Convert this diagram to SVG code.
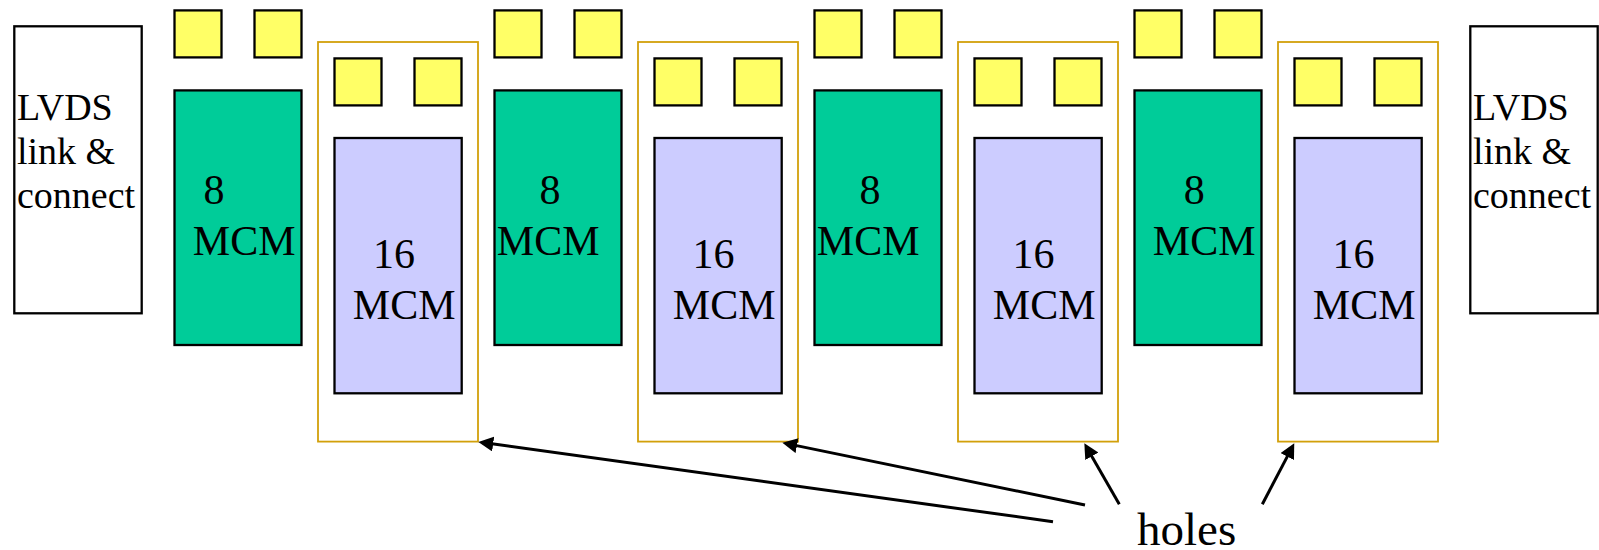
<svg xmlns="http://www.w3.org/2000/svg" width="1599" height="550" viewBox="0 0 1599 550">
<defs>
<style>
.box{fill:#fff;stroke:#000;stroke-width:2.3}
.sq{fill:#FFFF66;stroke:#000;stroke-width:2.3}
.g8{fill:#00CC99;stroke:#000;stroke-width:2.3}
.p16{fill:#CCCCFF;stroke:#000;stroke-width:2.3}
.frame{fill:none;stroke:#D2A00A;stroke-width:1.8}
.t{font-family:"Liberation Serif","Times New Roman",serif;fill:#000}
.lv{font-size:38px}
.mc{font-size:42px}
.ho{font-size:47px}
.arr{stroke:#000;stroke-width:3;fill:none;marker-end:url(#ah)}
</style>
<marker id="ah" markerUnits="userSpaceOnUse" markerWidth="15" markerHeight="15" refX="3" refY="7.5" orient="auto">
<path d="M0,0 L15,7.5 L0,15 z" fill="#000"/>
</marker>
</defs>
<g id="lvds-left">
<rect class="box" x="14.3" y="26.3" width="127.4" height="287"/>
<text class="t lv" x="17" y="120">LVDS</text>
<text class="t lv" x="17" y="164">link &amp;</text>
<text class="t lv" x="17" y="208">connect</text>
</g>
<g id="lvds-right">
<rect class="box" x="1470.3" y="26.3" width="127.4" height="287"/>
<text class="t lv" x="1473" y="120">LVDS</text>
<text class="t lv" x="1473" y="164">link &amp;</text>
<text class="t lv" x="1473" y="208">connect</text>
</g>
<g id="mcm8-1">
<rect class="sq" x="174.5" y="10.4" width="47" height="47"/>
<rect class="sq" x="254.5" y="10.4" width="47" height="47"/>
<rect class="g8" x="174.5" y="90.4" width="127" height="254.6"/>
<text class="t mc" x="203.5" y="204.3">8</text>
<text class="t mc" x="192.8" y="255">MCM</text>
</g>
<g id="mcm16-1">
<rect class="frame" x="318" y="42" width="160" height="399.6"/>
<rect class="sq" x="334.5" y="58.4" width="47" height="47"/>
<rect class="sq" x="414.5" y="58.4" width="47" height="47"/>
<rect class="p16" x="334.5" y="138" width="127.2" height="255.3"/>
<text class="t mc" x="373" y="268.3">16</text>
<text class="t mc" x="352.8" y="319.3">MCM</text>
</g>
<g id="mcm8-2">
<rect class="sq" x="494.5" y="10.4" width="47" height="47"/>
<rect class="sq" x="574.5" y="10.4" width="47" height="47"/>
<rect class="g8" x="494.5" y="90.4" width="127" height="254.6"/>
<text class="t mc" x="539.5" y="204.3">8</text>
<text class="t mc" x="496.8" y="255">MCM</text>
</g>
<g id="mcm16-2">
<rect class="frame" x="638" y="42" width="160" height="399.6"/>
<rect class="sq" x="654.5" y="58.4" width="47" height="47"/>
<rect class="sq" x="734.5" y="58.4" width="47" height="47"/>
<rect class="p16" x="654.5" y="138" width="127.2" height="255.3"/>
<text class="t mc" x="692.6" y="268.3">16</text>
<text class="t mc" x="672.8" y="319.3">MCM</text>
</g>
<g id="mcm8-3">
<rect class="sq" x="814.5" y="10.4" width="47" height="47"/>
<rect class="sq" x="894.5" y="10.4" width="47" height="47"/>
<rect class="g8" x="814.5" y="90.4" width="127" height="254.6"/>
<text class="t mc" x="859.5" y="204.3">8</text>
<text class="t mc" x="816.8" y="255">MCM</text>
</g>
<g id="mcm16-3">
<rect class="frame" x="958" y="42" width="160" height="399.6"/>
<rect class="sq" x="974.5" y="58.4" width="47" height="47"/>
<rect class="sq" x="1054.5" y="58.4" width="47" height="47"/>
<rect class="p16" x="974.5" y="138" width="127.2" height="255.3"/>
<text class="t mc" x="1012.6" y="268.3">16</text>
<text class="t mc" x="992.8" y="319.3">MCM</text>
</g>
<g id="mcm8-4">
<rect class="sq" x="1134.5" y="10.4" width="47" height="47"/>
<rect class="sq" x="1214.5" y="10.4" width="47" height="47"/>
<rect class="g8" x="1134.5" y="90.4" width="127" height="254.6"/>
<text class="t mc" x="1183.8" y="204.3">8</text>
<text class="t mc" x="1152.8" y="255">MCM</text>
</g>
<g id="mcm16-4">
<rect class="frame" x="1278" y="42" width="160" height="399.6"/>
<rect class="sq" x="1294.5" y="58.4" width="47" height="47"/>
<rect class="sq" x="1374.5" y="58.4" width="47" height="47"/>
<rect class="p16" x="1294.5" y="138" width="127.2" height="255.3"/>
<text class="t mc" x="1332.6" y="268.3">16</text>
<text class="t mc" x="1312.8" y="319.3">MCM</text>
</g>
<g id="holes-label">
<text class="t ho" x="1137" y="545">holes</text>
</g>
<g id="connectors">
<line class="arr" x1="1053" y1="521.7" x2="490.2" y2="443.6"/>
<line class="arr" x1="1085" y1="505" x2="794.1" y2="445.1"/>
<line class="arr" x1="1119.3" y1="504.3" x2="1090.3" y2="453.7"/>
<line class="arr" x1="1262.3" y1="504.3" x2="1288.7" y2="453.9"/>
</g>
</svg>
